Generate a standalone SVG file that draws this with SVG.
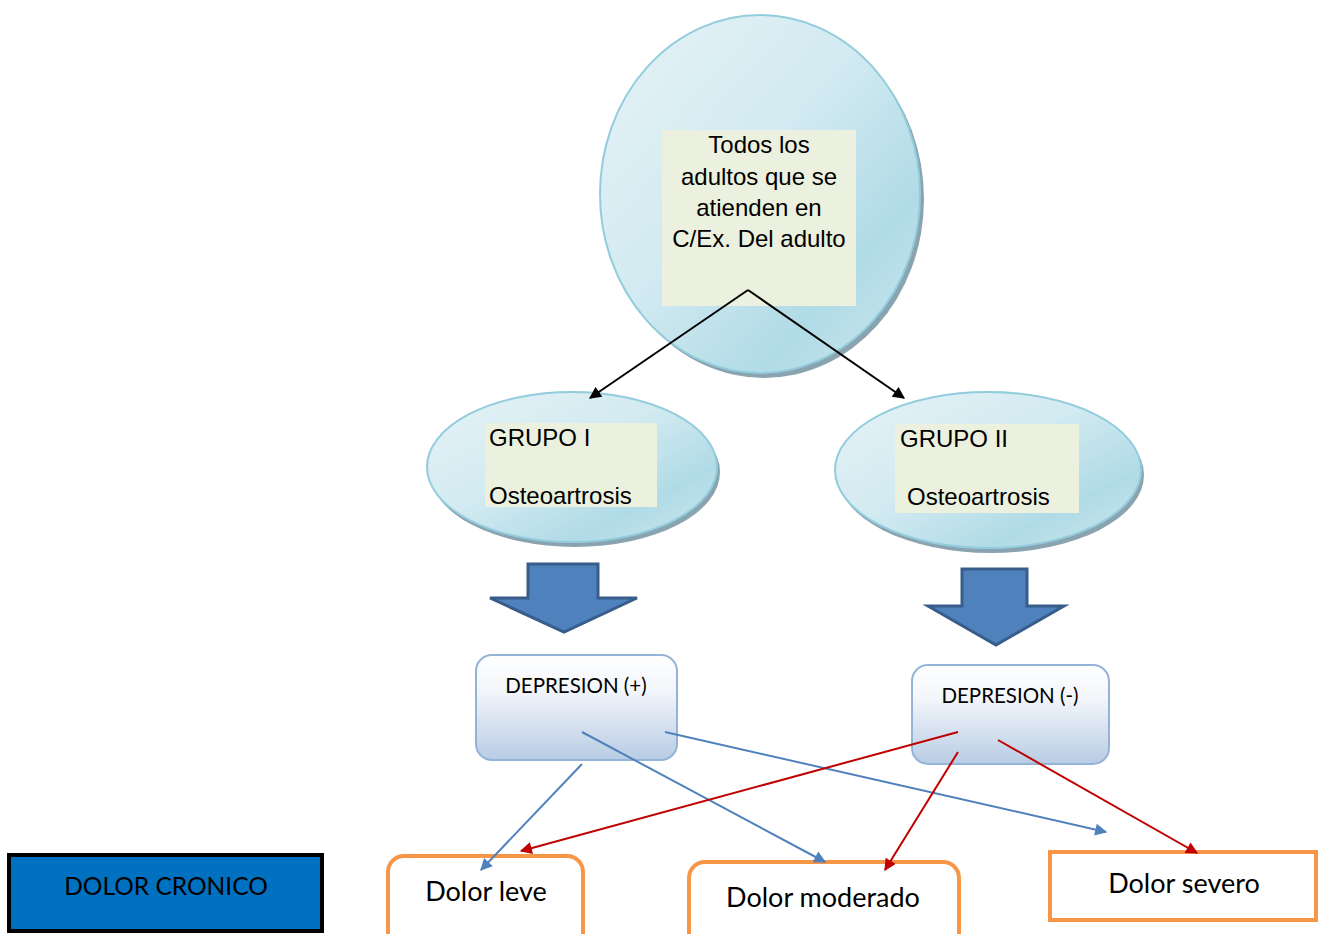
<svg xmlns="http://www.w3.org/2000/svg" width="1318" height="934" viewBox="0 0 1318 934">
<defs>
<linearGradient id="eg" x1="0" y1="0" x2="1" y2="1">
<stop offset="0" stop-color="#e6f3f7"/>
<stop offset="0.45" stop-color="#d2eaf1"/>
<stop offset="0.75" stop-color="#b0dbe6"/>
<stop offset="1" stop-color="#cfe8ef"/>
</linearGradient>
<linearGradient id="bg" x1="0" y1="0" x2="0" y2="1">
<stop offset="0" stop-color="#ffffff"/>
<stop offset="0.35" stop-color="#f2f5fa"/>
<stop offset="1" stop-color="#b8cce4"/>
</linearGradient>
<marker id="mk" viewBox="0 0 10 10" refX="9" refY="5" markerWidth="14" markerHeight="12" markerUnits="userSpaceOnUse" orient="auto"><path d="M0,0 L10,5 L0,10 z" fill="#000"/></marker>
<marker id="mb" viewBox="0 0 10 10" refX="9" refY="5" markerWidth="14" markerHeight="12" markerUnits="userSpaceOnUse" orient="auto"><path d="M0,0 L10,5 L0,10 z" fill="#4f81bd"/></marker>
<marker id="mr" viewBox="0 0 10 10" refX="9" refY="5" markerWidth="14" markerHeight="12" markerUnits="userSpaceOnUse" orient="auto"><path d="M0,0 L10,5 L0,10 z" fill="#c00000"/></marker>
<style>
.ell{fill:url(#eg);stroke:#93cddd;stroke-width:2}
.sh{fill:#8aa3b0}
.tb{fill:#ebf1de}
.t{font-family:"Liberation Sans",Arial,sans-serif;font-size:24px;fill:#000}
.c{font-family:Lato,"Open Sans",sans-serif;fill:#000}
.blk{fill:#4f81bd;stroke:#385d8a;stroke-width:3}
.dep{fill:url(#bg);stroke:#95b3d7;stroke-width:2}
.pain{fill:#fff;stroke:#f79646;stroke-width:4}
.k{stroke:#000;stroke-width:2;fill:none}
.b{stroke:#4f81bd;stroke-width:2;fill:none}
.r{stroke:#c00000;stroke-width:2;fill:none}
</style>
</defs>
<rect width="1318" height="934" fill="#fff"/>

<g id="node-todos">
<ellipse class="sh" cx="764" cy="199" rx="160" ry="179"/>
<ellipse class="ell" cx="760" cy="194" rx="160" ry="179"/>
<rect class="tb" x="662" y="130" width="194" height="176"/>
<text class="t" text-anchor="middle"><tspan x="759" y="153">Todos los</tspan><tspan x="759" y="185">adultos que se</tspan><tspan x="759" y="216">atienden en</tspan><tspan x="759" y="247">C/Ex. Del adulto</tspan></text>
</g>

<g id="node-grupo1">
<ellipse class="sh" cx="575" cy="472" rx="145" ry="75"/>
<ellipse class="ell" cx="572" cy="467" rx="145" ry="75"/>
<rect class="tb" x="485" y="423" width="172" height="84"/>
<text class="t" x="489" y="446">GRUPO I</text>
<text class="t" x="489" y="504">Osteoartrosis</text>
</g>

<g id="node-grupo2">
<ellipse class="sh" cx="991" cy="475" rx="153" ry="78"/>
<ellipse class="ell" cx="988" cy="470" rx="153" ry="78"/>
<rect class="tb" x="895" y="424" width="184" height="89"/>
<text class="t" x="900" y="447">GRUPO II</text>
<text class="t" x="907" y="505">Osteoartrosis</text>
</g>

<g id="node-arrow1">
<path class="blk" d="M528,564 L598,564 L598,598 L637,598 L564,632 L490,598 L528,598 Z"/>
</g>
<g id="node-arrow2">
<path class="blk" d="M962,569 L1027,569 L1027,606 L1064,606 L996,645 L928,606 L962,606 Z"/>
</g>

<g id="node-dep-pos">
<rect class="dep" x="476" y="655" width="201" height="105" rx="16"/>
<text class="c" x="576" y="693" font-size="20.5" text-anchor="middle">DEPRESION (+)</text>
</g>
<g id="node-dep-neg">
<rect class="dep" x="912" y="665" width="197" height="99" rx="16"/>
<text class="c" x="1010" y="703" font-size="20.5" text-anchor="middle">DEPRESION (-)</text>
</g>

<g id="node-dolor-cronico">
<rect x="9" y="855" width="313" height="76" fill="#0070c0" stroke="#000" stroke-width="4"/>
<text class="c" x="166" y="895" font-size="24.5" text-anchor="middle">DOLOR CRONICO</text>
</g>

<g id="node-leve">
<rect class="pain" x="388" y="856" width="195" height="100" rx="16"/>
<text class="c" x="486" y="901" font-size="27" text-anchor="middle">Dolor leve</text>
</g>
<g id="node-moderado">
<rect class="pain" x="689" y="862" width="270" height="94" rx="16"/>
<text class="c" x="823" y="907" font-size="27" text-anchor="middle">Dolor moderado</text>
</g>
<g id="node-severo">
<rect class="pain" x="1050" y="852" width="266" height="68"/>
<text class="c" x="1184" y="893" font-size="27" text-anchor="middle">Dolor severo</text>
</g>

<g id="connectors">
<line class="k" x1="748" y1="290" x2="590" y2="398" marker-end="url(#mk)"/>
<line class="k" x1="748" y1="290" x2="904" y2="398" marker-end="url(#mk)"/>
<line class="b" x1="582" y1="764" x2="481" y2="870" marker-end="url(#mb)"/>
<line class="b" x1="582" y1="732" x2="825" y2="862" marker-end="url(#mb)"/>
<line class="b" x1="665" y1="732" x2="1106" y2="832" marker-end="url(#mb)"/>
<line class="r" x1="958" y1="732" x2="521" y2="851" marker-end="url(#mr)"/>
<line class="r" x1="958" y1="752" x2="885" y2="870" marker-end="url(#mr)"/>
<line class="r" x1="998" y1="740" x2="1197" y2="853" marker-end="url(#mr)"/>
</g>
</svg>
